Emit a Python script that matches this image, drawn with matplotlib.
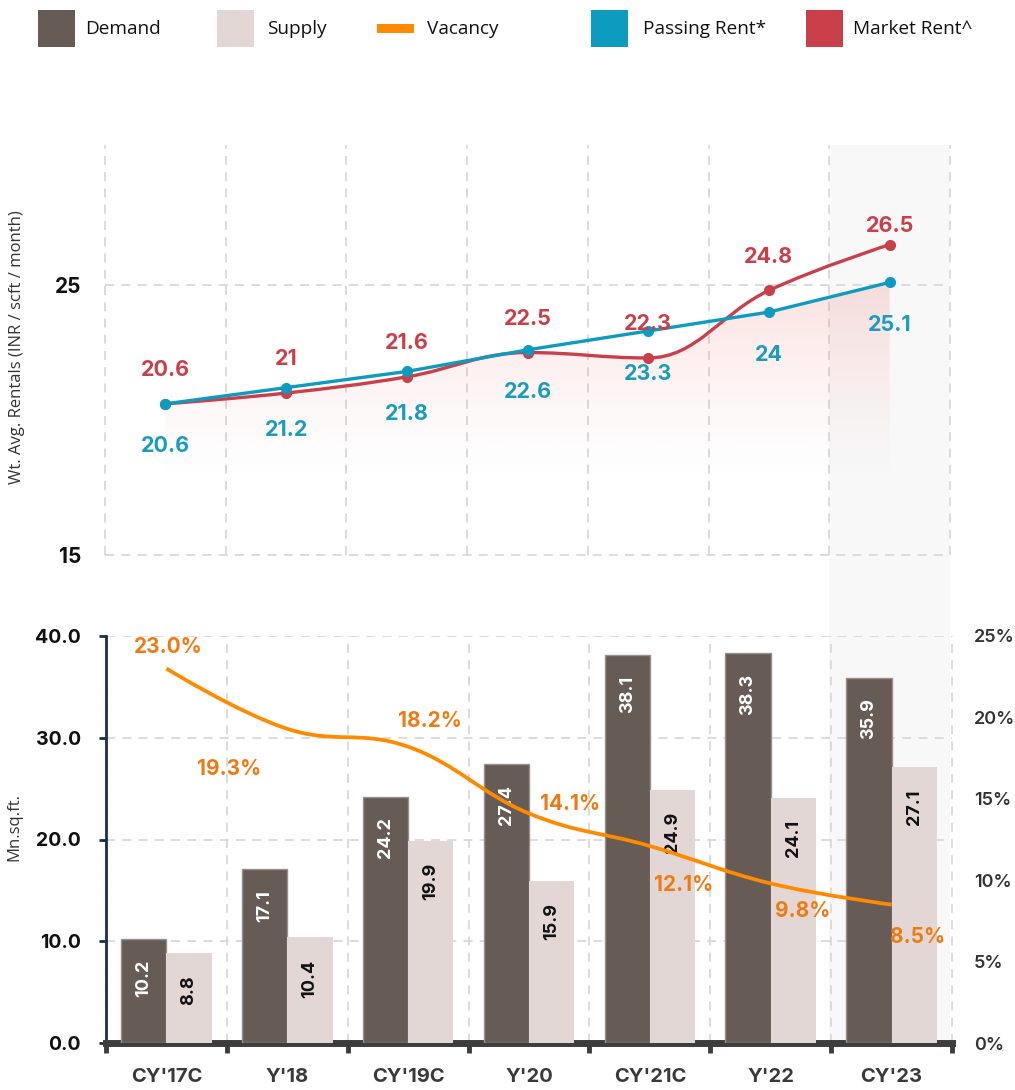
import numpy as np
import matplotlib
matplotlib.use('Agg')
import matplotlib.pyplot as plt
from matplotlib.path import Path
from matplotlib.patches import PathPatch, Rectangle

# ---------------- data ----------------
categories = ["CY'17C", "Y'18", "CY'19C", "Y'20", "CY'21C", "Y'22", "CY'23"]
demand = [10.2, 17.1, 24.2, 27.4, 38.1, 38.3, 35.9]
supply = [8.8, 10.4, 19.9, 15.9, 24.9, 24.1, 27.1]
vacancy = [23.0, 19.3, 18.2, 14.1, 12.1, 9.8, 8.5]
passing_rent = [20.6, 21.2, 21.8, 22.6, 23.3, 24.0, 25.1]
market_rent = [20.6, 21.0, 21.6, 22.5, 22.3, 24.8, 26.5]
rent_ticks = [15, 25]
area_ticks = [0, 10, 20, 30, 40]
vac_ticks = [0, 5, 10, 15, 20, 25]

# ---------------- styles ----------------
C_DEM = '#675b55'
C_SUP = '#e3d7d6'
C_VAC = '#ff8a00'
C_VAC_TXT = '#f07a12'
C_PASS = '#0e9bc0'
C_PASS_TXT = '#1a9cbf'
C_MKT = '#c9404b'
C_GRID = '#d9d9d9'
NUM = ['Inter', 'DejaVu Sans']
TXT = ['Open Sans', 'DejaVu Sans']
vac_offsets = [(1, 11.5), (-42, -33), (16, 14.4), (29.5, 2.2), (24, -32.4), (23, -24.5), (19, -27.4)]
mkt_label_dy = [20, 20, 20, 20, 20, 20, 9]
pass_label_dy = [-35] * 7

W, H = 1015, 1090
fig = plt.figure(figsize=(W / 100, H / 100), dpi=100)


def hc_spline(xs, ys, smoothing=1.5):
    n = len(xs)
    lc = [None] * n
    rc = [None] * n
    denom = smoothing + 1
    for i in range(1, n - 1):
        px, py = xs[i], ys[i]
        lx, ly = xs[i - 1], ys[i - 1]
        nx, ny = xs[i + 1], ys[i + 1]
        lcx = (smoothing * px + lx) / denom
        lcy = (smoothing * py + ly) / denom
        rcx = (smoothing * px + nx) / denom
        rcy = (smoothing * py + ny) / denom
        if rcx != lcx:
            corr = ((rcy - lcy) * (rcx - px)) / (rcx - lcx) + py - rcy
            lcy += corr
            rcy += corr
        if lcy > ly and lcy > py:
            lcy = max(ly, py); rcy = 2 * py - lcy
        elif lcy < ly and lcy < py:
            lcy = min(ly, py); rcy = 2 * py - lcy
        if rcy > ny and rcy > py:
            rcy = max(ny, py); lcy = 2 * py - rcy
        elif rcy < ny and rcy < py:
            rcy = min(ny, py); lcy = 2 * py - rcy
        lc[i] = (lcx, lcy)
        rc[i] = (rcx, rcy)
    verts = [(xs[0], ys[0])]
    codes = [Path.MOVETO]
    for i in range(1, n):
        c1 = rc[i - 1] if rc[i - 1] is not None else (xs[i - 1], ys[i - 1])
        c2 = lc[i] if lc[i] is not None else (xs[i], ys[i])
        verts += [c1, c2, (xs[i], ys[i])]
        codes += [Path.CURVE4] * 3
    return Path(verts, codes)


def sample_path(path, n=60):
    v = path.vertices
    pts = [v[0]]
    t = np.linspace(0, 1, n)[1:, None]
    for k in range(1, len(v), 3):
        p0, p1, p2, p3 = v[k - 1], v[k], v[k + 1], v[k + 2]
        b = (1 - t) ** 3 * p0 + 3 * (1 - t) ** 2 * t * p1 + 3 * (1 - t) * t ** 2 * p2 + t ** 3 * p3
        pts.extend(b)
    return np.array(pts)


x = np.arange(len(categories))
bounds = np.arange(len(categories) + 1) - 0.5

# ================= top panel =================
ax1 = fig.add_axes([105 / W, 1 - 555 / H, 845 / W, 410 / H])
ax1.set_facecolor('none')
for s in ax1.spines.values():
    s.set_visible(False)
ax1.set_xticks(bounds)
ax1.set_xticklabels([])
ax1.set_yticks(rent_ticks)
ax1.set_yticklabels([str(v) for v in rent_ticks], fontfamily=NUM, fontweight='bold', fontsize=15, color='#111111')
ax1.tick_params(axis='both', length=0)
ax1.tick_params(axis='y', pad=17)
ax1.grid(True, color=C_GRID, linestyle=(0, (5, 4)), linewidth=1.3)
for ln in ax1.get_xgridlines() + ax1.get_ygridlines():
    ln.set_clip_on(False)
ax1.set_axisbelow(True)
ax1.set_ylabel('Wt. Avg. Rentals (INR / scft / month)', fontfamily=TXT, fontsize=12, color='#333333')
ax1.yaxis.set_label_coords(-0.095, 0.507)

# highlight band spanning both panels
ax1.axvspan(len(categories) - 1.5, len(categories) - 0.5, ymin=-(1043 - 555) / 410, ymax=1,
            color='#f8f8f8', zorder=0, clip_on=False, lw=0)

mkt_path = hc_spline(list(x.astype(float)), market_rent)
mkt_pts = sample_path(mkt_path)

# gradient fill under the lower envelope
xg = np.linspace(x[0], x[-1], 500)
env = np.minimum(np.interp(xg, mkt_pts[:, 0], mkt_pts[:, 1]), np.interp(xg, x, passing_rent))
fade_bottom = 17.6
poly = ax1.fill_between(xg, env, fade_bottom, color='none', lw=0)
clip = PathPatch(poly.get_paths()[0], transform=ax1.transData, facecolor='none', edgecolor='none')
ax1.add_patch(clip)
grad = np.zeros((256, 1, 4))
grad[..., 0] = 0.94
grad[..., 1] = 0.42
grad[..., 2] = 0.40
grad[:, 0, 3] = np.linspace(0, 1, 256) ** 1.4 * 0.22
im = ax1.imshow(grad, extent=[x[0], x[-1], fade_bottom, max(market_rent) - 0.9], aspect='auto', origin='lower', zorder=1)
im.set_clip_path(clip)
ax1.set_xlim(-0.5, len(categories) - 0.5)
ax1.set_ylim(15, 30.19)

ax1.plot(x, passing_rent, color=C_PASS, lw=2.4, zorder=4, solid_joinstyle='round')
ax1.add_patch(PathPatch(mkt_path, facecolor='none', edgecolor=C_MKT, lw=2.4, zorder=3))
ax1.plot(x, market_rent, 'o', color=C_MKT, ms=7, zorder=5)
ax1.plot(x, passing_rent, 'o', color=C_PASS, ms=7, zorder=6)

for i, v in enumerate(market_rent):
    ax1.annotate(f'{v:g}', (x[i], v), xytext=(0, mkt_label_dy[i]), textcoords='offset points', ha='center', va='baseline',
                 color=C_MKT, fontsize=15.5, fontweight='bold', fontfamily=NUM, zorder=7)
for i, v in enumerate(passing_rent):
    ax1.annotate(f'{v:g}', (x[i], v), xytext=(0, pass_label_dy[i]), textcoords='offset points', ha='center', va='baseline',
                 color=C_PASS_TXT, fontsize=15.5, fontweight='bold', fontfamily=NUM, zorder=7)

# ================= bottom panel =================
ax2 = fig.add_axes([106 / W, 1 - 1043 / H, 846 / W, 407 / H])
ax2.set_facecolor('none')
ax2.set_xlim(-0.5, len(categories) - 0.5)
ax2.set_ylim(0, 40)
bw = 0.375
ax2.bar(x - bw / 2, demand, bw, color=C_DEM, edgecolor='#9a8f8a', linewidth=1, zorder=3)
ax2.bar(x + bw / 2, supply, bw, color=C_SUP, linewidth=0, zorder=3)
for i in range(len(categories)):
    ax2.annotate(f'{demand[i]:.1f}', (x[i] - bw / 2, demand[i]), xytext=(0, -15), textcoords='offset points',
                 rotation=90, ha='center', va='top', color='white', fontsize=13, fontweight='bold', fontfamily=NUM, zorder=4)
    ax2.annotate(f'{supply[i]:.1f}', (x[i] + bw / 2, supply[i]), xytext=(0, -16), textcoords='offset points',
                 rotation=90, ha='center', va='top', color='#111111', fontsize=13, fontweight='bold', fontfamily=NUM, zorder=4)

ax2.set_xticks(bounds)
ax2.set_xticklabels([])
ax2.set_xticks(x, minor=True)
ax2.set_xticklabels(categories, minor=True, fontfamily=NUM, fontweight='bold', fontsize=14.5, color='#3a3a3a')
ax2.tick_params(axis='x', which='major', direction='out', length=7, width=3.5, color='#3d3d3d')
ax2.tick_params(axis='x', which='minor', length=0, pad=18)
ax2.set_yticks(area_ticks)
ax2.set_yticklabels([f'{v:.1f}' for v in area_ticks], fontfamily=NUM, fontweight='bold', fontsize=14, color='#111111')
ax2.tick_params(axis='y', direction='out', length=5, width=2, color='#1e2e45', pad=13)
for k in ['top', 'right']:
    ax2.spines[k].set_visible(False)
ax2.spines['left'].set_color('#1e2e45')
ax2.spines['left'].set_linewidth(2)
ax2.spines['bottom'].set_color('#3d3d3d')
ax2.spines['bottom'].set_linewidth(5)
ax2.grid(True, which='major', color=C_GRID, linestyle=(0, (5, 4)), linewidth=1.3)
for ln in ax2.get_xgridlines():
    ln.set_clip_on(False)
ax2.set_axisbelow(True)
ax2.set_ylabel('Mn.sq.ft.', fontfamily=TXT, fontsize=12, color='#333333')
ax2.yaxis.set_label_coords(-0.099, 0.53)

ax3 = ax2.twinx()
ax3.set_facecolor('none')
ax3.set_ylim(0, 25)
ax3.set_yticks(vac_ticks)
ax3.set_yticklabels([f'{v}%' for v in vac_ticks], fontfamily=NUM, fontweight='semibold', fontsize=13, color='#333333')
ax3.tick_params(axis='y', length=0, pad=16)
for s in ax3.spines.values():
    s.set_visible(False)
vac_path = hc_spline(list(x.astype(float)), vacancy)
ax3.add_patch(PathPatch(vac_path, facecolor='none', edgecolor=C_VAC, lw=2.7, zorder=3))
for i, v in enumerate(vacancy):
    ax3.annotate(f'{v:.1f}%', (x[i], v), xytext=vac_offsets[i], textcoords='offset points', ha='center', va='baseline',
                 color=C_VAC_TXT, fontsize=15, fontweight='bold', fontfamily=NUM, zorder=5)

# ================= legend =================
legend_items = [('Demand', C_DEM, 'box', 38, 85), ('Supply', C_SUP, 'box', 217, 267),
                ('Vacancy', C_VAC, 'line', 377, 427), ('Passing Rent*', C_PASS, 'box', 591, 643),
                ('Market Rent^', C_MKT, 'box', 806, 853)]
for label, col, kind, px0, tx in legend_items:
    if kind == 'box':
        fig.add_artist(Rectangle((px0 / W, 1 - 47 / H), 37 / W, 37 / H, transform=fig.transFigure, color=col, lw=0))
    else:
        fig.add_artist(Rectangle((px0 / W, 1 - 33 / H), 37 / W, 9 / H, transform=fig.transFigure, color=col, lw=0))
    fig.text(tx / W, 1 - 29 / H, label, fontfamily=TXT, fontsize=13.7, color='#111111', va='center', ha='left')

fig.savefig('out.png', dpi=100)
